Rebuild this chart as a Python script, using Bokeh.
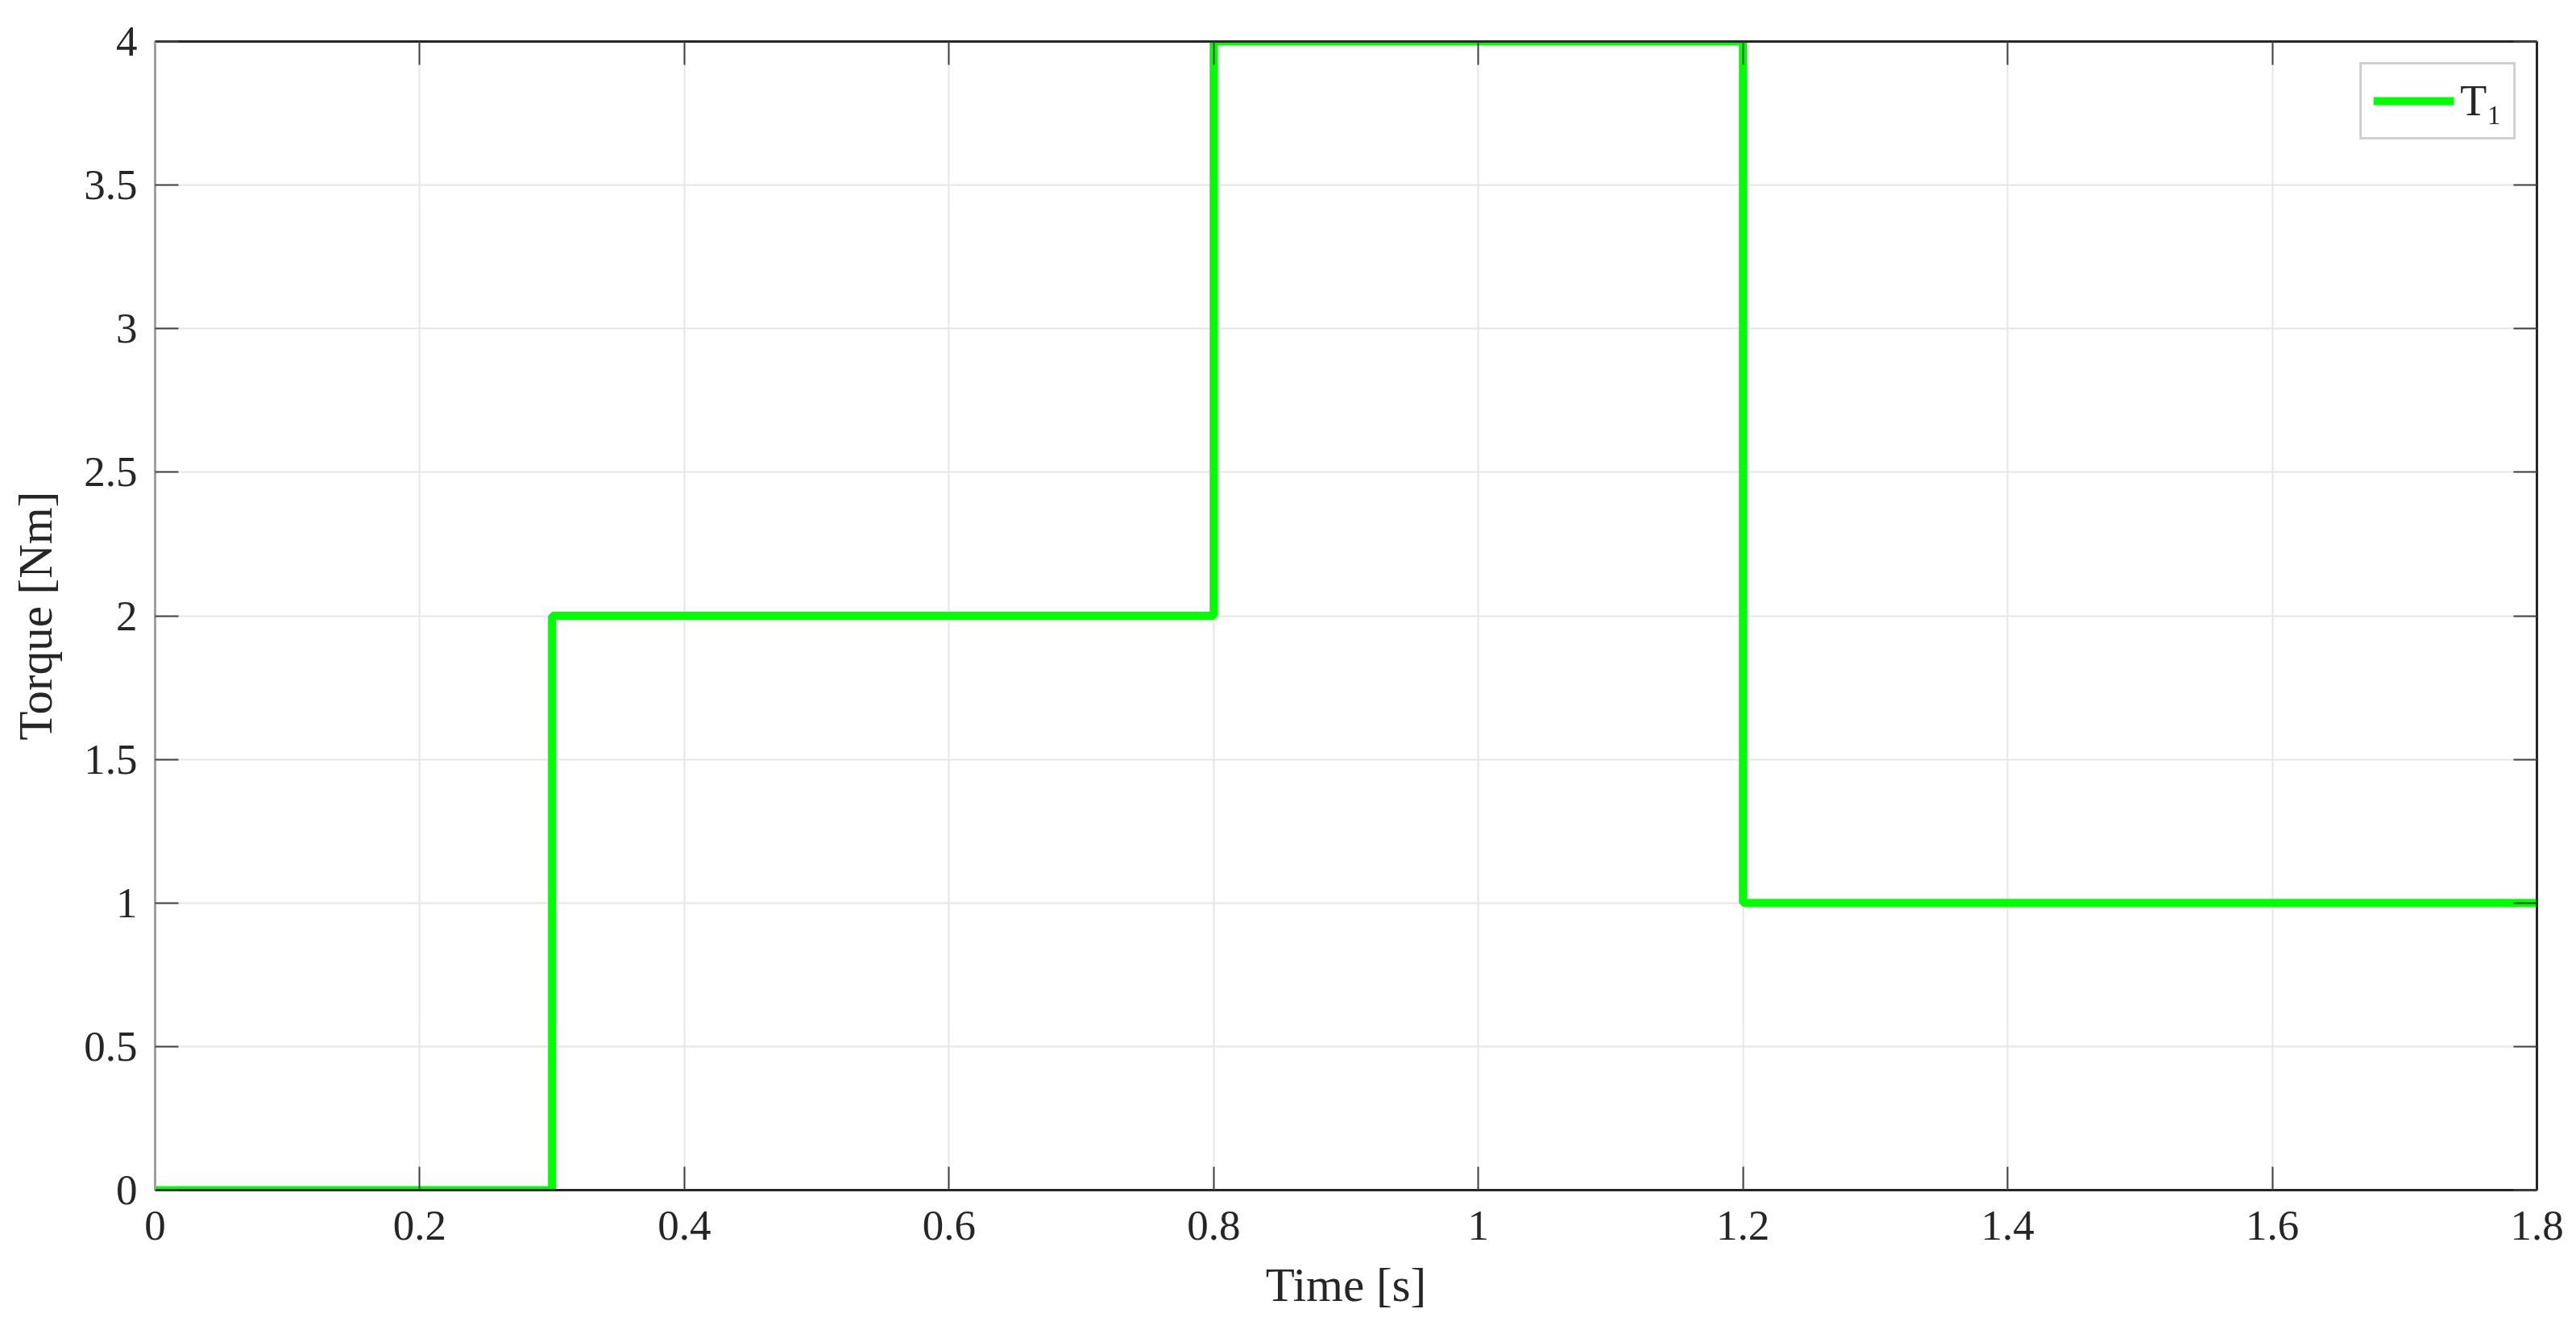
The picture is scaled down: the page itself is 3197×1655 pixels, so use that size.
from bokeh.plotting import figure
from bokeh.models import Range1d, LinearAxis, FixedTicker, Legend, LegendItem
from bokeh.embed import file_html
from bokeh.resources import INLINE

# Data
time_s = [0.0, 0.3, 0.8, 1.2, 1.8]
torque_nm = [0.0, 2.0, 4.0, 1.0, 1.0]
x_ticks = [0, 0.2, 0.4, 0.6, 0.8, 1.0, 1.2, 1.4, 1.6, 1.8]
y_ticks = [0, 0.5, 1, 1.5, 2, 2.5, 3, 3.5, 4]
series_label = "T\u2081"

FONT = "Liberation Serif"

p = figure(
    frame_width=2956, frame_height=1425,
    min_border_left=192, min_border_top=51, min_border_right=40, min_border_bottom=160,
    x_range=Range1d(0, 1.8), y_range=Range1d(0, 4),
    output_backend="svg", toolbar_location=None,
    x_axis_label="Time [s]", y_axis_label="Torque [Nm]",
)
p.outline_line_color = None
p.background_fill_color = "white"
p.border_fill_color = "white"

r = p.step(time_s, torque_nm, mode="after", line_color="#00ff00", line_width=10)

def style_axis(ax, ticks, show_labels=True, color="#262626"):
    ax.ticker = FixedTicker(ticks=ticks)
    ax.axis_line_color = color
    ax.axis_line_width = 3
    ax.major_tick_in = 29
    ax.major_tick_out = 0
    ax.major_tick_line_color = "#404040"
    ax.major_tick_line_width = 2
    ax.minor_tick_line_color = None
    ax.major_label_text_font = FONT
    ax.major_label_text_font_size = "53px"
    ax.major_label_text_color = "#262626"
    ax.axis_label_text_font = FONT
    ax.axis_label_text_font_size = "59px"
    ax.axis_label_text_font_style = "normal"
    ax.axis_label_text_color = "#262626"
    if not show_labels:
        ax.major_label_text_font_size = "0px"
        ax.major_label_text_alpha = 0

xax = p.xaxis[0]
yax = p.yaxis[0]
style_axis(xax, x_ticks)
style_axis(yax, y_ticks, color="#a0a0a0")
xax.major_label_standoff = 26
xax.axis_label_standoff = 20
yax.major_label_standoff = 22
yax.axis_label_standoff = 24

top = LinearAxis()
style_axis(top, x_ticks, show_labels=False)
p.add_layout(top, "above")
right = LinearAxis()
style_axis(right, y_ticks, show_labels=False)
p.add_layout(right, "right")

p.xgrid.ticker = FixedTicker(ticks=x_ticks)
p.ygrid.ticker = FixedTicker(ticks=y_ticks)
for g in (p.xgrid[0], p.ygrid[0]):
    g.grid_line_color = "#e6e6e6"
    g.grid_line_width = 2

legend = Legend(items=[LegendItem(label=series_label, renderers=[r])],
                location="top_right")
legend.label_text_font = FONT
legend.label_text_font_size = "54px"
legend.label_text_color = "#262626"
legend.glyph_width = 100
legend.glyph_height = 44
legend.border_line_color = "#a0a0a0"
legend.border_line_width = 3
legend.margin = 26
legend.padding = 14
legend.spacing = 0
legend.label_standoff = 8
p.add_layout(legend)

open("out.html", "w").write(file_html(p, INLINE))
